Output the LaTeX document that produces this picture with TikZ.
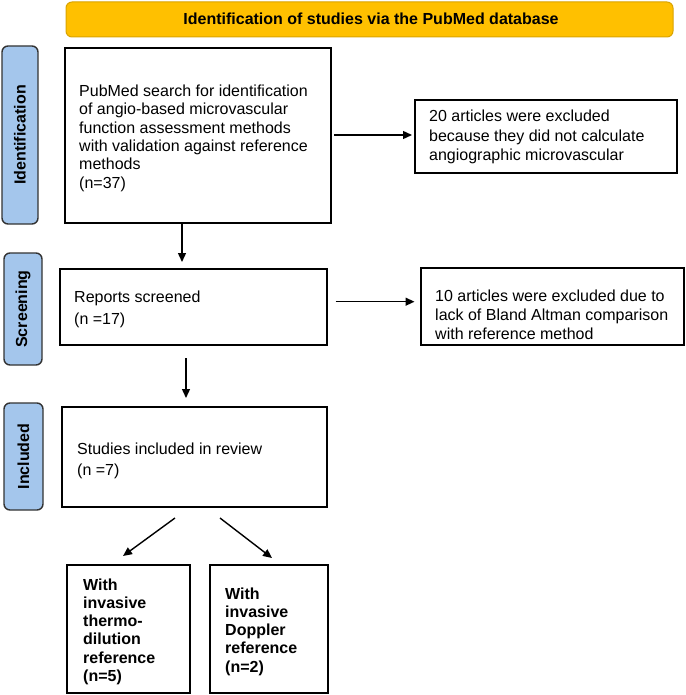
\documentclass[tikz,border=0pt]{standalone}
\usepackage{fontspec}
\setmainfont{Liberation Sans}
\usetikzlibrary{arrows.meta}
\definecolor{hdrfill}{HTML}{FFC000}
\definecolor{hdrline}{HTML}{D9A300}
\definecolor{tabfill}{HTML}{A4C6EC}
\definecolor{tabline}{HTML}{333333}
\begin{document}
\begin{tikzpicture}[x=1pt,y=-1pt,
  box/.style={draw=black,line width=1.6pt,inner sep=0pt,outer sep=0pt},
  hdr/.style={draw=hdrline,fill=hdrfill,line width=1pt,rounded corners=6pt,inner sep=0pt,
    font=\bfseries\fontsize{16}{19}\selectfont},
  tab/.style={draw=tabline,fill=tabfill,line width=1.4pt,rounded corners=6pt,inner sep=0pt,rotate=90,
    font=\bfseries\fontsize{16}{19}\selectfont},
  txt/.style={anchor=base west,inner sep=0pt,align=left},
  arr/.style={-{Triangle[length=9pt,width=8pt]},line width=1.4pt}
]
\useasboundingbox (0,0) rectangle (685,695);

% header
\node[hdr,minimum width=607pt,minimum height=35pt] (hd) at (369.5,19.5) {};
\node[anchor=base,inner sep=0pt,font=\bfseries\fontsize{16}{19}\selectfont] (hdt) at (371,25) {Identification of studies via the PubMed database};

% side tabs
\node[tab,minimum width=178pt,minimum height=36pt] (tid) at (20,135) {Identification};
\node[tab,minimum width=112pt,minimum height=38pt] (tsc) at (23,309) {Screening};
\node[tab,minimum width=107pt,minimum height=39pt] (tin) at (23.5,456.5) {Included};

% boxes
\node[box,minimum width=266pt,minimum height=175pt] (b1) at (198,135.5) {};
\node[box,minimum width=262pt,minimum height=73pt] (b2) at (546,136.5) {};
\node[box,minimum width=267pt,minimum height=76pt] (b3) at (193.5,307) {};
\node[box,minimum width=263pt,minimum height=77pt] (b4) at (552.5,306.5) {};
\node[box,minimum width=265pt,minimum height=100pt] (b5) at (194.5,457) {};
\node[box,minimum width=123pt,minimum height=128pt] (b6) at (128.5,629) {};
\node[box,minimum width=118pt,minimum height=128pt] (b7) at (269,629) {};

% texts (anchor = baseline of the last line)
\node[txt,font=\fontsize{16}{18.3}\selectfont] (x1) at (79,188) {PubMed search for identification\\of angio-based microvascular\\function assessment methods\\with validation against reference\\methods\\(n=37)};
\node[txt,font=\fontsize{16}{19.5}\selectfont] (x2) at (429,160.7) {20 articles were excluded\\because they did not calculate\\angiographic microvascular};
\node[txt,font=\fontsize{16}{22.5}\selectfont] (x3) at (74,324.5) {Reports screened\\(n =17)};
\node[txt,font=\fontsize{16}{19}\selectfont] (x4) at (435,339.5) {10 articles were excluded due to\\lack of Bland Altman comparison\\with reference method};
\node[txt,font=\fontsize{16}{21}\selectfont] (x5) at (77,475) {Studies included in review\\(n =7)};
\node[txt,font=\bfseries\fontsize{16}{18.3}\selectfont] (x6) at (83,681.5) {With\\invasive\\thermo-\\dilution\\reference\\(n=5)};
\node[txt,font=\bfseries\fontsize{16}{18.3}\selectfont] (x7) at (225,672.2) {With\\invasive\\Doppler\\reference\\(n=2)};

% connectors
\draw[arr] ([xshift=3pt,yshift=0.5pt]b1.east) -- ([yshift=1.5pt,xshift=-3pt]b2.west);
\draw[arr] ([xshift=117pt]b1.south west) -- ([xshift=122pt,yshift=7pt]b3.north west);
\draw[arr] ([xshift=8.5pt,yshift=5.3pt]b3.east) -- ([xshift=-6.5pt,yshift=4.8pt]b4.west);
\draw[arr] ([xshift=126pt,yshift=-13pt]b3.south west) -- ([xshift=124pt,yshift=9pt]b5.north west);
\draw[arr] ([xshift=-19.5pt,yshift=-11pt]b5.south) -- ([xshift=-5.5pt,yshift=9pt]b6.north);
\draw[arr] ([xshift=25.5pt,yshift=-11pt]b5.south) -- ([xshift=3pt,yshift=7pt]b7.north);
\end{tikzpicture}
\end{document}
